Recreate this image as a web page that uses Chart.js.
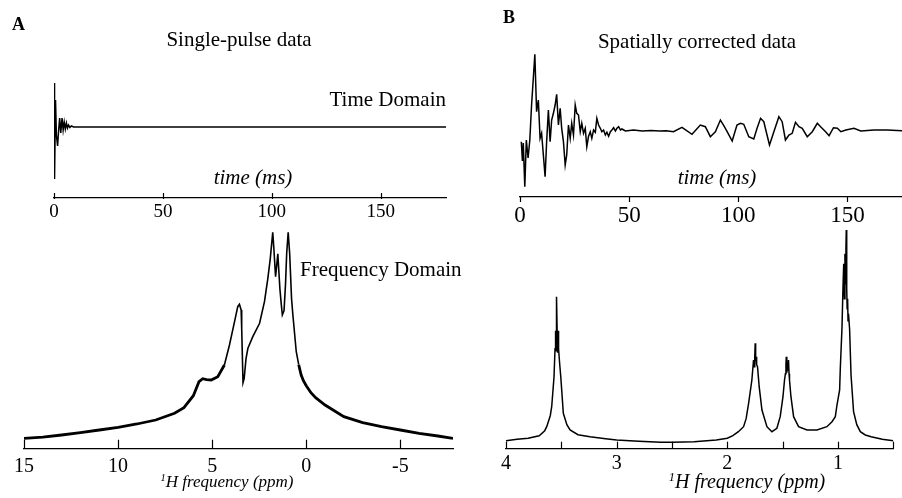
<!DOCTYPE html>
<html>
<head>
<meta charset="utf-8">
<script src="https://cdn.jsdelivr.net/npm/chart.js@4.4.0/dist/chart.umd.min.js"></script>
<style>
  body { margin: 0; background: #fff; }
  #fig { position: relative; width: 902px; height: 498px; overflow: hidden; font-family: "Liberation Serif", "Times New Roman", serif; color: #000; }
  #fig canvas { position: absolute; left: 0; top: 0; }
  .txt { position: absolute; white-space: nowrap; line-height: 1; }
  .mid { transform: translateX(-50%); }
  .it { font-style: italic; }
  sup { font-size: 0.62em; vertical-align: 0.55em; line-height: 0; }
</style>
</head>
<body>
<div id="fig">
  <canvas id="fidA" width="902" height="498"></canvas>
  <canvas id="fidB" width="902" height="498"></canvas>
  <canvas id="specA" width="902" height="498"></canvas>
  <canvas id="specB" width="902" height="498"></canvas>

  <div class="txt" style="left:12px; top:15px; font-size:18px; font-weight:bold;">A</div>
  <div class="txt" style="left:503px; top:8px; font-size:18px; font-weight:bold;">B</div>
  <div class="txt mid" style="left:239px; top:29px; font-size:21px;">Single-pulse data</div>
  <div class="txt mid" style="left:697px; top:31px; font-size:21px;">Spatially corrected data</div>
  <div class="txt" style="right:456px; top:89px; font-size:21px;">Time Domain</div>
  <div class="txt" style="left:300px; top:259px; font-size:21px;">Frequency Domain</div>
  <div class="txt mid it" style="left:253px; top:167px; font-size:21px;">time (ms)</div>
  <div class="txt mid it" style="left:717px; top:167px; font-size:21px;">time (ms)</div>
  <div class="txt mid it" style="left:227px; top:473px; font-size:17px;"><sup>1</sup>H frequency (ppm)</div>
  <div class="txt mid it" style="left:747px; top:471px; font-size:20px;"><sup>1</sup>H frequency (ppm)</div>
</div>
<script>
// single-pulse FID (time in ms, signal with baseline at 0)
const timeA = [0, 0.15, 0.35, 0.7, 1.1, 1.65, 2.1, 2.6, 3.1, 3.7, 4.2, 4.7, 5.2, 5.7, 6.2, 6.7, 7.3, 8.0, 9.0, 10.5, 180]
const fidA = [10, 44, -52, 27, -8, -19, -4, 9, -6, 9, -3, 5, -2, 4, -1, 2, -0.5, 1, 0, 0, 0]

// spatially corrected FID
const timeB = [0.6, 1.1, 1.5, 2.2, 2.9, 3.7, 4.5, 5.3, 6.1, 6.8, 7.6, 8.4, 9.2, 9.9, 10.7, 11.5, 12.2, 13.0, 13.8, 14.5,
  15.3, 16.1, 16.8, 17.6, 18.4, 19.1, 19.9, 20.7, 21.4, 22.2, 23.0, 23.7, 24.5, 25.3, 26.0, 26.8, 27.6, 28.3, 29.1, 29.9,
  30.6, 31.4, 32.2, 32.9, 33.7, 34.5, 35.2, 36.0, 36.8, 37.5, 38.3, 39.1, 39.8, 40.6, 41.4, 42.1, 42.9, 43.7, 44.4, 45.2,
  46.0, 46.7, 48.3, 52, 56, 60, 64, 67, 70.3, 74.2, 78.8, 82.6, 84.9, 87.2, 89.5, 91.8, 93.3, 94.9, 97.2, 99.4,
  101, 102.5, 104.8, 107.1, 108.6, 110.2, 111.7, 112.8, 114.3, 116.3, 118.6, 120.1, 121.6, 123.2, 124.7, 126.2, 127.8, 129.3, 131.6, 133.9,
  136.2, 137.7, 140, 141.6, 143.6, 145.4, 147, 149.3, 153, 156.1, 162.2, 168.3, 175]
const fidB = [-10.7, -30, -12, -55.7, -9, -27, -9, 26, 52.7, 76.7, 19.3, 31, -7.3, -2.3, -24, -45.7, -10.7, 21, -10.7, 11,
  17.7, 26, 36.7, 6, 22.7, 2.7, -10.7, -34, -24, 6, -7.3, 7.7, -4, 26, 17.7, 16, -0.7, 7.7, -2.3, 2.7,
  -15.7, -5.3, -0.7, -7.3, 1, -1.3, 12.7, 6, 2.7, -0.7, 1, -4, -1.3, -5.3, -0.7, 1, 3.3, 0, 2.7, 4.3,
  1, 2, 0, 1, 0, 0.5, 0, 0.3, -0.7, 3.7, -3.3, 6, 4.3, -5.7, -0.7, 11, 5.7, -0.7, -10, 6,
  7.7, 6.7, -5.7, -8, 2.7, 12.7, 9.3, -0.7, -14, -0.7, 14.3, 9.3, -9, -4, -2.3, 8.7, 4.3, 2.7, -5.7, -0.7,
  7.7, 4.3, -0.7, -4.7, 3.3, 2.7, -0.7, 1, 2.7, 0, 1, 1, 0.3]

// single-pulse spectrum (ppm, intensity)
const ppmA = [15, 14, 13, 12, 11, 10, 9, 8, 7, 6.5, 6.0, 5.7, 5.5, 5.3, 5.05, 4.7, 4.35, 4.08, 3.81, 3.64,
  3.55, 3.46, 3.43, 3.36, 3.30, 3.2, 3.10, 2.84, 2.48, 2.22, 2.04, 1.91, 1.78, 1.72, 1.63, 1.56, 1.51, 1.47, 1.40, 1.33,
  1.27, 1.18, 1.10, 1.04, 0.96, 0.88, 0.78, 0.71, 0.53, 0.4, 0.27, 0.15, 0, -0.25, -0.5, -1, -2, -3, -4, -5,
  -6, -7, -7.8]
const specA = [10.4, 11.5, 13.7, 16, 18.7, 21.4, 24.7, 28.7, 35.4, 41, 53, 67, 70, 69, 68.7, 72, 83.7, 103.7, 127, 142,
  144.4, 138.7, 120, 66, 70, 90, 100.4, 112, 125.4, 147, 170.4, 190.4, 216.4, 200, 172, 185, 195, 182, 160, 145,
  133.7, 138, 165, 195, 216.4, 195, 150, 133.7, 97, 84, 73.7, 68, 63, 56, 51, 43.7, 32, 26, 22, 18.7,
  15.4, 12.7, 10.4]

// spatially corrected spectrum
const ppmB = [4.0, 3.9, 3.8, 3.7, 3.65, 3.632, 3.6, 3.587, 3.566, 3.557, 3.552, 3.548, 3.545, 3.542, 3.538, 3.534, 3.530, 3.525, 3.515, 3.505,
  3.482, 3.45, 3.421, 3.35, 3.241, 3.1, 3.0, 2.8, 2.6, 2.5, 2.3, 2.1, 2.0, 1.95, 1.9, 1.853, 1.83, 1.808, 1.778, 1.763,
  1.757, 1.752, 1.748, 1.744, 1.740, 1.735, 1.727, 1.712, 1.687, 1.642, 1.597, 1.552, 1.522, 1.497, 1.483, 1.475, 1.470, 1.467, 1.462, 1.457,
  1.452, 1.447, 1.442, 1.438, 1.425, 1.401, 1.356, 1.28, 1.19, 1.1, 1.054, 1.024, 1.009, 0.985, 0.979, 0.964, 0.955, 0.948, 0.942, 0.937,
  0.932, 0.928, 0.925, 0.921, 0.917, 0.913, 0.909, 0.905, 0.895, 0.882, 0.859, 0.83, 0.798, 0.753, 0.7, 0.6, 0.5]
const specB = [8, 9.5, 10.4, 13, 18, 22, 33, 42, 72, 100, 118, 98, 118, 152, 118, 96, 118, 100, 85, 72,
  35.4, 24, 18.7, 14, 12, 10, 8.7, 7.5, 6.5, 6.4, 7, 8.7, 10.4, 13, 17, 22, 30, 45, 68.7, 88.7,
  82, 92, 105.4, 88, 92, 84, 82, 62, 38.7, 22, 17, 20.4, 32, 52, 68.7, 75, 85, 92, 76, 86,
  78, 88.7, 75, 68.7, 52, 32, 22, 18.7, 18.7, 22, 27, 32, 43.7, 58.7, 80, 120, 160, 185, 150, 195,
  165, 200, 218.7, 160, 140, 150, 128, 135, 120, 73.7, 37, 24, 17, 13.7, 12, 9.4, 8]

// tick positions
const ticksTime = [0, 50, 100, 150]
const ticksPpmA = [15, 10, 5, 0, -5]
const ticksPpmB = [4, 3.5, 3, 2.5, 2, 1.5, 1, 0.5]

const axisTicks = {
  id: 'axisTicks',
  afterDraw(chart, args, opts) {
    const scale = chart.scales.x
    const ctx = chart.ctx
    const y0 = chart.chartArea.bottom
    ctx.save()
    ctx.strokeStyle = '#000'
    ctx.lineWidth = 1.2
    scale.ticks.forEach((t, i) => {
      const px = Math.round(scale.getPixelForTick(i)) + 0.5
      ctx.beginPath()
      ctx.moveTo(px, y0 - opts.up)
      ctx.lineTo(px, y0 + opts.down)
      ctx.stroke()
    })
    ctx.restore()
  }
}

function makeChart(id, xs, ys, o) {
  return new Chart(document.getElementById(id), {
    type: 'line',
    data: {
      datasets: [{
        data: xs.map((x, i) => ({ x: x, y: ys[i] })),
        borderColor: '#000',
        borderWidth: o.line,
        segment: o.segment,
        pointRadius: 0,
        tension: 0
      }]
    },
    options: {
      responsive: false,
      animation: false,
      devicePixelRatio: 1,
      layout: { padding: o.pad },
      plugins: {
        legend: { display: false },
        tooltip: { enabled: false },
        axisTicks: o.marks
      },
      scales: {
        x: {
          type: 'linear',
          min: o.xmin,
          max: o.xmax,
          reverse: o.reverse,
          grid: { drawOnChartArea: false, drawTicks: false },
          border: { display: true, color: '#000', width: 1.3 },
          ticks: {
            color: '#000',
            padding: o.labelPad,
            maxRotation: 0,
            font: { family: '"Liberation Serif", "Times New Roman", serif', size: o.fontSize },
            callback: v => Number.isInteger(v) ? String(v) : ''
          },
          afterBuildTicks: s => { s.ticks = o.ticks.map(v => ({ value: v })) },
          afterFit: s => { s.height = 40 }
        },
        y: { display: false, min: o.ymin, max: o.ymax }
      }
    },
    plugins: [axisTicks]
  })
}

makeChart('fidA', timeA, fidA, {
  xmin: 0, xmax: 180, ymin: -71, ymax: 47, reverse: false, ticks: ticksTime,
  pad: { left: 54, right: 456, top: 80, bottom: 260 }, line: 1.5, fontSize: 19, labelPad: 3,
  marks: { up: 5, down: 1 }
})

makeChart('fidB', timeB, fidB, {
  xmin: 0, xmax: 175, ymin: -66, ymax: 81, reverse: false, ticks: ticksTime,
  pad: { left: 520, right: 0, top: 50, bottom: 261 }, line: 1.5, fontSize: 23, labelPad: 5,
  marks: { up: 1, down: 5 }
})

// the wings of the single-pulse spectrum are noisy, so they look thicker
makeChart('specA', ppmA, specA, {
  xmin: -7.8, xmax: 15, ymin: 0, ymax: 226.7, reverse: true, ticks: ticksPpmA,
  pad: { left: 24, right: 449, top: 222, bottom: 9.3 }, line: 2, fontSize: 20, labelPad: 6,
  segment: { borderWidth: ctx => (ctx.p0.parsed.x > 4.6 || ctx.p1.parsed.x < 0.3) ? 2.8 : 1.6 },
  marks: { up: 9, down: 0 }
})

makeChart('specB', ppmB, specB, {
  xmin: 0.5, xmax: 4, ymin: 0, ymax: 226.7, reverse: true, ticks: ticksPpmB,
  pad: { left: 506, right: 8.7, top: 222, bottom: 9.3 }, line: 1.5, fontSize: 20, labelPad: 3,
  marks: { up: 7, down: 0 }
})
</script>
</body>
</html>
